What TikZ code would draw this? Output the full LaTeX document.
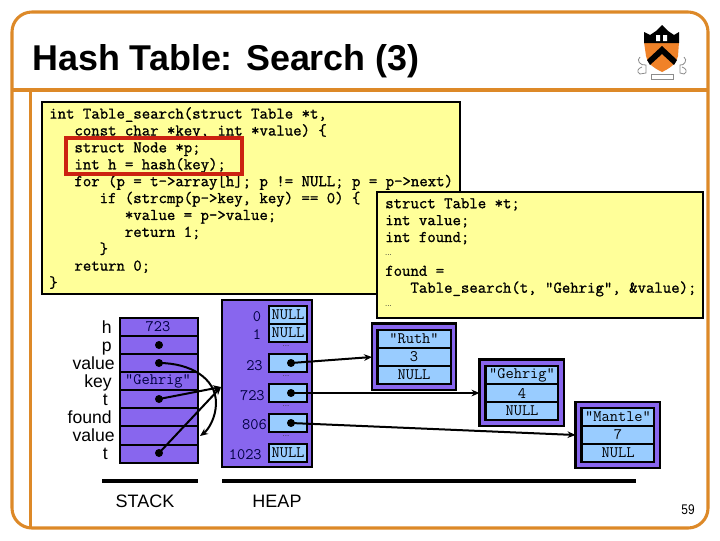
\documentclass[tikz,border=0pt]{standalone}
\usepackage{fontspec}
\setsansfont{Liberation Sans}
\newfontfamily\codefam[FakeBold=1.2]{Latin Modern Mono}
\usetikzlibrary{arrows.meta}
\definecolor{frameor}{RGB}{221,137,40}
\definecolor{codey}{RGB}{255,255,153}
\definecolor{purp}{RGB}{136,102,238}
\definecolor{cellb}{RGB}{153,204,255}
\definecolor{redbx}{RGB}{204,34,17}
\definecolor{shield}{RGB}{240,130,40}
\newcommand{\ind}[1]{\hspace*{#1\dimexpr 6.3pt\relax}}
\tikzset{
  x=0.75pt,y=-0.75pt,
  codefont/.style={font=\fontsize{12.25}{12.67}\codefam},
  codebox/.style={draw=black,line width=1.8pt,fill=codey},
  codetext/.style={codefont,anchor=north west,align=left,inner sep=0pt,text=black},
  stackrow/.style={draw=black,line width=1.5pt,fill=purp},
  cell/.style={draw=black,line width=1.7pt,fill=cellb},
  bigcell/.style={draw=black,line width=2.2pt,fill=cellb},
  outerbox/.style={draw=black,line width=1.8pt,fill=purp},
  mono/.style={font=\fontsize{12}{14}\ttfamily,inner sep=0pt,text=black!75!blue},
  monok/.style={font=\fontsize{12}{14}\ttfamily,inner sep=0pt,text=black},
  varlab/.style={font=\fontsize{13.2}{14}\sffamily,inner sep=0pt,anchor=base east},
  biglab/.style={font=\fontsize{13.5}{14}\sffamily,inner sep=0pt},
  dotn/.style={circle,fill=black,inner sep=0pt,minimum size=6pt},
  elip/.style={font=\fontsize{6}{7}\sffamily,inner sep=0pt,text=black!80},
  ptr/.style={line width=1.5pt,-{Stealth[length=6pt,width=5pt]}},
  rule/.style={line width=2.4pt,black},
  frameln/.style={draw=frameor,line width=2.3pt},
}
\begin{document}
\begin{tikzpicture}
\useasboundingbox (0,0) rectangle (720,540);
\fill[white] (0,0) rectangle (720,540);
% frame
\draw[frameln,rounded corners=15pt] (12,12) rectangle (708,528);
\draw[frameln] (12,90) -- (708,90);
\draw[frameln] (30.5,90) -- (30.5,528);
% title
\node[anchor=base west,inner sep=0pt,font=\fontsize{26.9}{30}\sffamily\bfseries] (title) at (32,70) {Hash Table: Search (3)};
% logo
\draw[black!45,line width=0.6pt] (640,57) .. controls (636,60) and (640,66) .. (646,65) -- (646,73) -- (640,74) .. controls (636,72) and (638,68) .. (642,67);
\draw[black!45,line width=0.6pt] (684,57) .. controls (688,60) and (684,66) .. (680,65) -- (680,73) -- (684,74) .. controls (688,72) and (686,68) .. (682,67);
\draw[black!45,fill=white,line width=0.6pt] (651,74) rectangle (673,79);
\fill[shield] (644,42) -- (679,42) -- (678,56) .. controls (676,65) and (668,69) .. (662,72) .. controls (656,69) and (648,65) .. (646,56) -- cycle;
\fill[black] (644,32) -- (650,35) -- (656,31) -- (662,25) -- (668,31) -- (674,35) -- (679,32) -- (679,43) -- (644,43) -- cycle;
\fill[white] (656,35) rectangle (660,41) (663,35) rectangle (667,41);
\fill[black] (662,46) -- (677,60) -- (674,65) -- (662,54) -- (650,65) -- (647,60) -- cycle;
% code box 1
\draw[codebox] (42,102) rectangle (460,294);
\node[codetext] (code1) at (49,107) {int Table\_search(struct Table *t,\\
\ind{3}const char *key, int *value) \{\\
\ind{3}struct Node *p;\\
\ind{3}int h = hash(key);\\
\ind{3}for (p = t->array[h]; p != NULL; p = p->next)\\
\ind{6}if (strcmp(p->key, key) == 0) \{\\
\ind{9}*value = p->value;\\
\ind{9}return 1;\\
\ind{6}\}\\
\ind{3}return 0;\\
\}};
\draw[redbx,line width=2.6pt] (66,138) rectangle (242,174);
% code box 2
\draw[codebox] (377,192) rectangle (703,318);
\node[codetext] (code2) at (385,198) {struct Table *t;\\
int value;\\
int found;\\
\phantom{x}\\
found =\\
\ind{3}Table\_search(t, "Gehrig", \&value);\\
\phantom{x}};
\node[elip] (e1) at (388.5,255) {...};
\node[elip] (e2) at (388.5,306) {...};
% stack
\foreach \i in {0,...,7}{
  \draw[stackrow] (119.5,{317.5+18.15*\i}) rectangle (198,{317.5+18.15*(\i+1)});
}
\node[mono] (s723) at (158,327) {723};
\node[mono] (sgeh) at (158,381) {"Gehrig"};
\node[dotn] (sp) at (159,345) {};
\node[dotn] (sv) at (159,363) {};
\node[dotn] (st) at (159,399) {};
\node[dotn] (st2) at (159,453) {};
\node[varlab] (lh) at (112,333) {h};
\node[varlab] (lp) at (112,351) {p};
\node[varlab] (lv) at (115,369) {value};
\node[varlab] (lk) at (112,387) {key};
\node[varlab] (lt) at (108,405) {t};
\node[varlab] (lf) at (112,423) {found};
\node[varlab] (lv2) at (115,441) {value};
\node[varlab] (lt2) at (108,459) {t};
% heap table
\draw[outerbox] (222,300) rectangle (312,467);
\draw[cell] (269,306) rectangle (307,324);
\draw[cell] (269,324) rectangle (307,342);
\draw[cell] (269,354) rectangle (307,372);
\draw[cell] (269,384) rectangle (307,402);
\draw[cell] (269,414) rectangle (307,432);
\draw[cell] (269,444) rectangle (307,462);
\node[monok] (n0) at (288,315) {NULL};
\node[monok] (n1) at (288,333) {NULL};
\node[monok] (n1023) at (288,453) {NULL};
\node[mono] (i0) at (257,317) {0};
\node[mono] (i1) at (257,335) {1};
\node[mono,anchor=east] (i23) at (263,366) {23};
\node[mono,anchor=east] (i723) at (265,396) {723};
\node[mono,anchor=east] (i806) at (267,425) {806};
\node[mono,anchor=east] (i1023) at (262,455) {1023};
\node[elip] (e3) at (286,346) {...};
\node[elip] (e4) at (286,376) {...};
\node[elip] (e5) at (286,406) {...};
\node[elip] (e6) at (286,436) {...};
\node[dotn] (h23) at (291,363) {};
\node[dotn] (h723) at (291,393) {};
\node[dotn] (h806) at (291,423) {};
% list nodes
\draw[outerbox] (372,323.5) rectangle (456,390);
\draw[bigcell] (377.5,330) rectangle (451,348);
\draw[bigcell] (377.5,348) rectangle (451,366);
\draw[bigcell] (377.5,366) rectangle (451,384);
\node[monok] (r1) at (414,339) {"Ruth"};
\node[monok] (r2) at (414,357) {3};
\node[monok] (r3) at (414,375) {NULL};
\draw[outerbox] (479.5,359.5) rectangle (564,426);
\draw[bigcell] (485.5,366) rectangle (558,384);
\draw[bigcell] (485.5,384) rectangle (558,402);
\draw[bigcell] (485.5,402) rectangle (558,420);
\node[monok] (g1) at (522,375) {"Gehrig"};
\node[monok] (g2) at (522,393) {4};
\node[monok] (g3) at (522,411) {NULL};
\draw[outerbox] (575.5,402) rectangle (660,468);
\draw[bigcell] (581.5,408) rectangle (654,426);
\draw[bigcell] (581.5,426) rectangle (654,444);
\draw[bigcell] (581.5,444) rectangle (654,462);
\node[monok] (m1) at (618,417) {"Mantle"};
\node[monok] (m2) at (618,435) {7};
\node[monok] (m3) at (618,453) {NULL};
% connectors
\coordinate (ruthin) at (372,357);
\coordinate (gehin) at (479.5,393);
\coordinate (manin) at (575.5,435);
\coordinate (tabin) at (221,387);
\coordinate (valin) at (200,436);
\coordinate (valmid) at (216,403);
\draw[ptr] (h23.center) -- (ruthin);
\draw[ptr] (h723.center) -- (gehin);
\draw[ptr] (h806.center) -- (manin);
\draw[ptr] (st.center) -- (tabin);
\draw[ptr] (st2.center) -- (tabin);
\draw[ptr] (sv.center) .. controls (190,363) and (216,378) .. (valmid) .. controls (216,418) and (208,430) .. (valin);
% rules and labels
\coordinate (sl) at (102,481); \coordinate (sr) at (198,481);
\coordinate (hl) at (222,481); \coordinate (hr) at (636,481);
\draw[rule] (sl) -- (sr);
\draw[rule] (hl) -- (hr);
\node[biglab] (stack) at (145,501) {STACK};
\node[biglab] (heap) at (277,501) {HEAP};
\node[font=\fontsize{10.5}{11}\sffamily,inner sep=0pt] (pg) at (688,510) {\scalebox{0.85}[1]{59}};
\end{tikzpicture}
\end{document}
